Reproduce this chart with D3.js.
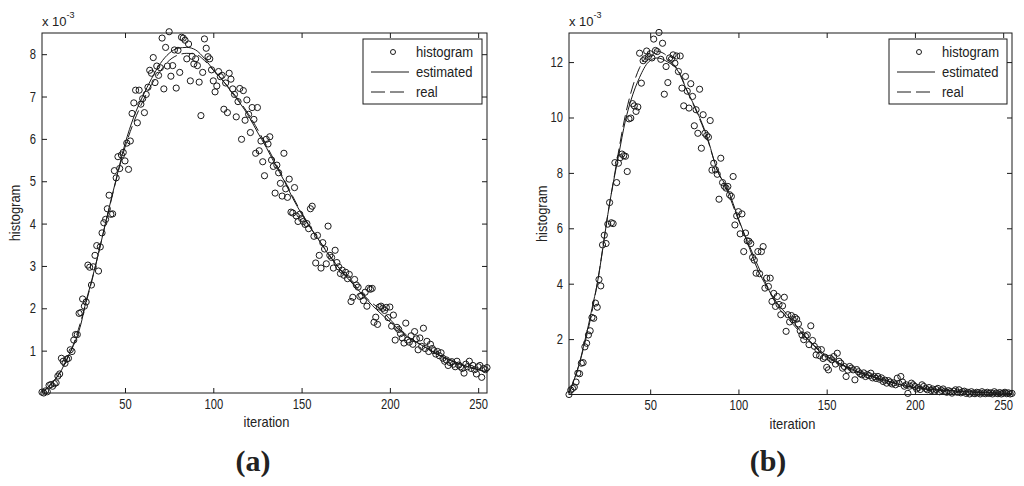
<!DOCTYPE html>
<html>
<head>
<meta charset="utf-8">
<script src="https://cdn.jsdelivr.net/npm/d3@7"></script>
<style>
  body { margin: 0; background: #fff; }
  text { font-family: "Liberation Sans", Arial, sans-serif; fill: #222; }
  .caption { font-family: "Liberation Serif", "Times New Roman", serif; font-weight: bold; }
</style>
</head>
<body>
<svg id="chart" width="1024" height="486"></svg>
<script>
// ---- panel (a) data, values in units of 1e-3 ----
const firstIterA = 3, lastIterA = 255;
const histA = [
  0.02, 0.00, 0.05, 0.03, 0.18, 0.20, 0.16, 0.22, 0.24, 0.40,
  0.45, 0.82, 0.75, 0.70, 0.80, 0.82, 1.02, 0.98, 1.25, 1.38,
  1.38, 1.88, 1.90, 2.22, 2.05, 2.15, 3.02, 2.97, 2.55, 2.98,
  3.25, 3.48, 2.88, 3.45, 3.78, 4.02, 4.10, 4.35, 4.67, 4.22,
  4.23, 5.25, 5.08, 5.58, 5.30, 5.62, 5.68, 5.48, 5.90, 5.28,
  5.95, 6.60, 6.85, 7.15, 6.38, 7.15, 6.82, 6.95, 6.62, 7.05,
  7.22, 7.62, 7.55, 7.92, 7.33, 7.72, 7.50, 7.68, 8.38, 7.18,
  8.16, 7.72, 8.53, 7.48, 7.73, 8.10, 7.20, 8.09, 7.57, 8.40,
  8.38, 8.33, 7.89, 8.24, 7.37, 7.95, 7.77, 7.89, 7.73, 7.34,
  6.55, 7.57, 8.36, 8.14, 7.94, 7.89, 7.63, 7.37, 7.11, 7.25,
  7.59, 7.47, 7.50, 6.70, 7.32, 6.62, 7.55, 7.41, 7.18, 7.05,
  6.52, 6.88, 7.19, 5.99, 7.14, 6.44, 6.92, 6.58, 6.15, 6.74,
  6.46, 5.66, 6.74, 5.72, 5.95, 5.46, 5.13, 5.99, 5.88, 6.05,
  5.50, 5.35, 4.72, 5.38, 5.20, 4.95, 4.65, 5.66, 4.82, 4.62,
  5.05, 4.27, 4.25, 4.85, 4.18, 4.05, 4.22, 4.12, 4.05, 3.98,
  4.00, 3.88, 4.35, 4.41, 3.70, 3.07, 3.72, 3.25, 2.95, 3.55,
  3.40, 3.05, 3.94, 3.25, 3.20, 2.95, 3.37, 3.08, 2.98, 2.82,
  2.90, 2.78, 2.85, 2.70, 2.80, 2.16, 2.26, 2.68, 2.55, 2.50,
  2.28, 2.30, 2.18, 2.38, 2.05, 2.47, 2.45, 2.47, 1.67, 1.79,
  1.62, 2.03, 2.05, 2.00, 1.95, 2.02, 1.78, 2.03, 1.58, 1.84,
  1.25, 1.55, 1.50, 1.40, 1.30, 1.18, 1.65, 1.25, 1.20, 1.35,
  1.15, 1.45, 1.28, 1.02, 1.30, 1.10, 1.53, 1.05, 1.22, 0.98,
  1.15, 1.05, 1.00, 0.92, 0.98, 0.88, 0.95, 0.82, 0.75, 0.78,
  0.65, 0.72, 0.74, 0.68, 0.62, 0.75, 0.66, 0.62, 0.58, 0.47,
  0.68, 0.62, 0.75, 0.58, 0.65, 0.55, 0.45, 0.62, 0.65, 0.37,
  0.58, 0.55, 0.60
];
const estItersA = [3, 5, 10, 13, 17, 20, 23, 25, 28, 30, 35, 40, 45, 50, 55, 60, 65, 70, 75, 80, 85, 90, 95, 100,
  105, 110, 115, 120, 125, 130, 135, 140, 145, 150, 155, 160, 165, 170, 175, 180, 185, 190, 195, 200,
  205, 210, 215, 220, 225, 230, 235, 240, 245, 250, 255];
const estA = [0.02, 0.08, 0.30, 0.46, 0.80, 1.05, 1.35, 1.62, 2.18, 2.48, 3.30, 4.20, 5.05, 5.88, 6.52, 7.00, 7.42, 7.78, 8.02, 8.14, 8.16, 8.10, 7.90, 7.63,
  7.40, 7.12, 6.85, 6.54, 6.16, 5.80, 5.40, 5.02, 4.60, 4.23, 3.90, 3.60, 3.28, 3.01, 2.76, 2.53, 2.30, 2.07, 1.87, 1.68,
  1.50, 1.32, 1.20, 1.08, 0.96, 0.85, 0.76, 0.68, 0.61, 0.55, 0.50];
const realItersA = [3, 10, 20, 30, 40, 50, 55, 60, 65, 70, 75, 80, 85, 90, 95, 100, 110, 120, 130, 140, 150, 160,
  170, 180, 190, 195, 200, 210, 220, 230, 240, 250, 255];
const realA = [0.02, 0.30, 1.06, 2.45, 4.18, 5.80, 6.40, 6.88, 7.28, 7.60, 7.85, 7.98, 8.02, 8.00, 7.85, 7.62, 7.15, 6.58, 5.85, 5.05, 4.25, 3.60,
  3.02, 2.55, 2.12, 1.97, 1.74, 1.35, 1.08, 0.86, 0.68, 0.55, 0.50];
const yTicksA = [1, 2, 3, 4, 5, 6, 7, 8];

// ---- panel (b) data, values in units of 1e-3 ----
const firstIterB = 4, lastIterB = 255;
const histB = [
  0.00, 0.16, 0.22, 0.27, 0.45, 0.77, 0.75, 1.13, 1.15, 1.72,
  1.85, 2.15, 2.30, 2.78, 2.75, 3.30, 3.15, 4.15, 3.92, 5.40,
  5.75, 5.45, 6.15, 6.93, 6.20, 6.17, 8.37, 7.65, 8.35, 8.55,
  8.68, 8.62, 8.60, 8.05, 9.95, 9.98, 10.50, 10.42, 10.22, 10.38,
  12.32, 11.24, 12.05, 12.12, 12.40, 12.20, 12.30, 12.15, 12.83, 12.42,
  12.38, 13.07, 12.10, 12.68, 10.84, 11.84, 11.26, 12.15, 12.10, 12.26,
  11.96, 12.22, 11.66, 12.22, 11.06, 10.42, 11.48, 10.95, 10.34, 11.22,
  10.76, 9.70, 10.28, 9.43, 11.02, 8.89, 10.10, 9.43, 9.35, 9.29,
  9.89, 8.10, 8.35, 8.11, 7.95, 7.05, 8.53, 7.65, 7.52, 7.45,
  7.51, 7.21, 7.15, 7.87, 6.12, 6.45, 6.60, 5.80, 6.52, 5.16,
  5.83, 5.55, 5.53, 5.45, 4.95, 4.85, 4.38, 5.16, 4.36, 5.16,
  5.34, 3.84, 4.20, 3.90, 4.20, 3.36, 3.65, 3.18, 3.54, 3.25,
  2.88, 3.20, 3.51, 2.28, 2.88, 2.62, 2.85, 2.70, 2.78, 2.72,
  2.55, 2.30, 2.15, 1.98, 2.10, 2.15, 1.80, 2.48, 1.95, 1.74,
  1.43, 1.62, 1.40, 1.62, 1.30, 1.35, 0.98, 0.89, 1.31, 1.25,
  1.37, 1.10, 1.49, 1.20, 1.13, 0.95, 1.01, 0.65, 0.88, 1.01,
  0.95, 0.89, 0.53, 0.90, 0.82, 0.75, 0.71, 0.78, 0.65, 0.72,
  0.68, 0.77, 0.60, 0.65, 0.58, 0.65, 0.55, 0.60, 0.47, 0.52,
  0.41, 0.50, 0.45, 0.38, 0.42, 0.35, 0.59, 0.40, 0.65, 0.45,
  0.30, 0.35, 0.04, 0.30, 0.41, 0.35, 0.29, 0.20, 0.25, 0.18,
  0.35, 0.29, 0.22, 0.17, 0.25, 0.15, 0.20, 0.12, 0.18, 0.22,
  0.10, 0.15, 0.20, 0.12, 0.08, 0.14, 0.10, 0.05, 0.12, 0.17,
  0.08, 0.17, 0.06, 0.10, 0.12, 0.04, 0.08, 0.02, 0.10, 0.05,
  0.03, 0.08, 0.06, 0.02, 0.10, 0.05, 0.03, 0.08, 0.04, 0.06,
  0.02, 0.10, 0.05, 0.03, 0.07, 0.02, 0.05, 0.08, 0.03, 0.06,
  0.02, 0.04
];
const estItersB = [4, 5, 7, 10, 13, 15, 17, 20, 23, 26, 30, 32, 36, 39, 44, 49, 54, 60, 65, 71, 77, 82, 88, 94, 100,
  105, 111, 116, 122, 128, 135, 140, 146, 152, 158, 165, 172, 178, 184, 190, 196, 203, 210, 221, 230, 240, 255];
const estB = [0.05, 0.20, 0.55, 1.15, 1.95, 2.50, 3.10, 4.00, 5.20, 6.50, 7.95, 8.60, 9.90, 10.60, 11.45, 12.00, 12.15, 12.00, 11.75, 10.95, 10.15, 9.35, 8.10, 7.40, 6.35,
  5.50, 4.50, 3.90, 3.30, 2.85, 2.30, 1.95, 1.60, 1.30, 1.10, 0.90, 0.72, 0.60, 0.50, 0.38, 0.28, 0.22, 0.18, 0.14, 0.10, 0.07, 0.04];
const realItersB = [4, 10, 20, 26, 30, 36, 40, 44, 48, 53, 58, 62, 66, 71, 77, 82, 88, 94, 100, 105, 111, 116, 122,
  128, 135, 140, 146, 152, 158, 165, 172, 178, 184, 190, 196, 203, 210, 221, 230, 240, 255];
const realB = [0.05, 1.15, 4.00, 6.50, 8.00, 10.10, 11.10, 11.80, 12.20, 12.40, 12.30, 12.00, 11.70, 10.95, 10.10, 9.30, 8.10, 7.30, 6.30, 5.55, 4.65, 3.95, 3.20,
  2.75, 2.25, 1.95, 1.55, 1.28, 1.08, 0.88, 0.72, 0.60, 0.48, 0.38, 0.30, 0.22, 0.17, 0.12, 0.09, 0.06, 0.04];
const yTicksB = [2, 4, 6, 8, 10, 12];

const xTicks = [50, 100, 150, 200, 250];
const legendLabels = ["histogram", "estimated", "real"];

const svg = d3.select("#chart");
const ink = "#1a1a1a";

// squeeze text horizontally, the original uses a narrow face
function narrow(sel, k) {
  sel.each(function () {
    const w = this.getComputedTextLength();
    if (w > 0) d3.select(this).attr("textLength", w * k).attr("lengthAdjust", "spacingAndGlyphs");
  });
}

function drawPanel(p) {
  const g = svg.append("g");
  const x = d3.scaleLinear().domain([p.first, p.last]).range([p.left, p.right]);
  const y = d3.scaleLinear().domain([0, p.yMax]).range([p.bottom, p.top]);

  // axes with inward ticks on all four sides
  const styleAxis = sel => {
    sel.select(".domain").remove();
    sel.selectAll("line").attr("stroke", ink);
    sel.selectAll("text").attr("font-size", 14).attr("fill", ink)
      .style("font-family", "'Liberation Sans',Arial,sans-serif")
      .call(narrow, 0.8);
  };
  g.append("g").attr("transform", `translate(0,${p.bottom})`)
    .call(d3.axisBottom(x).tickValues(xTicks).tickSizeInner(-5).tickSizeOuter(0).tickPadding(6))
    .call(styleAxis);
  g.append("g").attr("transform", `translate(0,${p.top})`)
    .call(d3.axisTop(x).tickValues(xTicks).tickSizeInner(-5).tickSizeOuter(0).tickFormat(""))
    .call(styleAxis);
  g.append("g").attr("transform", `translate(${p.left},0)`)
    .call(d3.axisLeft(y).tickValues(p.yTicks).tickSizeInner(-5).tickSizeOuter(0).tickPadding(6))
    .call(styleAxis);
  g.append("g").attr("transform", `translate(${p.right},0)`)
    .call(d3.axisRight(y).tickValues(p.yTicks).tickSizeInner(-5).tickSizeOuter(0).tickFormat(""))
    .call(styleAxis);

  g.append("rect")
    .attr("x", p.left).attr("y", p.top)
    .attr("width", p.right - p.left).attr("height", p.bottom - p.top)
    .attr("fill", "none").attr("stroke", ink).attr("stroke-width", 1);

  // curves
  const line = d3.line().x(d => x(d[0])).y(d => y(d[1])).curve(d3.curveMonotoneX);
  g.append("path").datum(d3.zip(p.estIters, p.est))
    .attr("d", line).attr("fill", "none").attr("stroke", ink).attr("stroke-width", 1);
  g.append("path").datum(d3.zip(p.realIters, p.real))
    .attr("d", line).attr("fill", "none").attr("stroke", ink).attr("stroke-width", 1)
    .attr("stroke-dasharray", "12,5");

  // histogram circles
  const iters = d3.range(p.first, p.last + 1);
  g.append("g").selectAll("circle")
    .data(d3.zip(iters, p.hist))
    .join("circle")
    .attr("cx", d => x(d[0])).attr("cy", d => y(d[1]))
    .attr("r", 3.1).attr("fill", "none").attr("stroke", ink).attr("stroke-width", 1);

  // exponent label
  const ex = g.append("text").attr("x", p.left).attr("y", p.top - 7).attr("font-size", 13);
  ex.append("tspan").text("x 10");
  ex.append("tspan").attr("dy", -8).attr("font-size", 9).text("-3");

  // axis titles
  g.append("text").attr("x", (p.left + p.right) / 2 + 2).attr("y", p.bottom + 34)
    .attr("text-anchor", "middle").attr("font-size", 15).text("iteration")
    .call(narrow, 0.86);
  g.append("text")
    .attr("transform", `translate(${p.left - 22},${(p.top + p.bottom) / 2}) rotate(-90)`)
    .attr("text-anchor", "middle").attr("font-size", 15).text("histogram")
    .call(narrow, 0.86);

  // legend
  const lg = g.append("g");
  lg.append("rect").attr("x", p.legX).attr("y", p.top + 6)
    .attr("width", p.legW).attr("height", 65)
    .attr("fill", "#fff").attr("stroke", ink).attr("stroke-width", 1);
  legendLabels.forEach((lab, i) => {
    const cy = p.top + 19 + i * 20;
    if (i === 0) {
      lg.append("circle").attr("cx", p.legX + 30).attr("cy", cy).attr("r", 2.5)
        .attr("fill", "none").attr("stroke", ink);
    } else {
      lg.append("line").attr("x1", p.legX + 8).attr("x2", p.legX + 46)
        .attr("y1", cy).attr("y2", cy).attr("stroke", ink)
        .attr("stroke-dasharray", i === 2 ? "14,5" : null);
    }
    lg.append("text").attr("x", p.legX + 53).attr("y", cy + 5)
      .attr("font-size", 15.5).text(lab)
      .call(narrow, 0.84);
  });

  // caption
  svg.append("text").attr("class", "caption")
    .attr("x", p.capX).attr("y", 471).attr("text-anchor", "middle")
    .attr("font-size", 30).text(p.caption);
}

drawPanel({
  first: firstIterA, last: lastIterA, hist: histA,
  estIters: estItersA, est: estA, realIters: realItersA, real: realA,
  yMax: 8.5, yTicks: yTicksA,
  left: 42, right: 487, top: 33, bottom: 393,
  legX: 363, legW: 119, capX: 253, caption: "(a)"
});
drawPanel({
  first: firstIterB, last: lastIterB, hist: histB,
  estIters: estItersB, est: estB, realIters: realItersB, real: realB,
  yMax: 13.05, yTicks: yTicksB,
  left: 569, right: 1012, top: 33, bottom: 394.5,
  legX: 889, legW: 118, capX: 768, caption: "(b)"
});
</script>
</body>
</html>
